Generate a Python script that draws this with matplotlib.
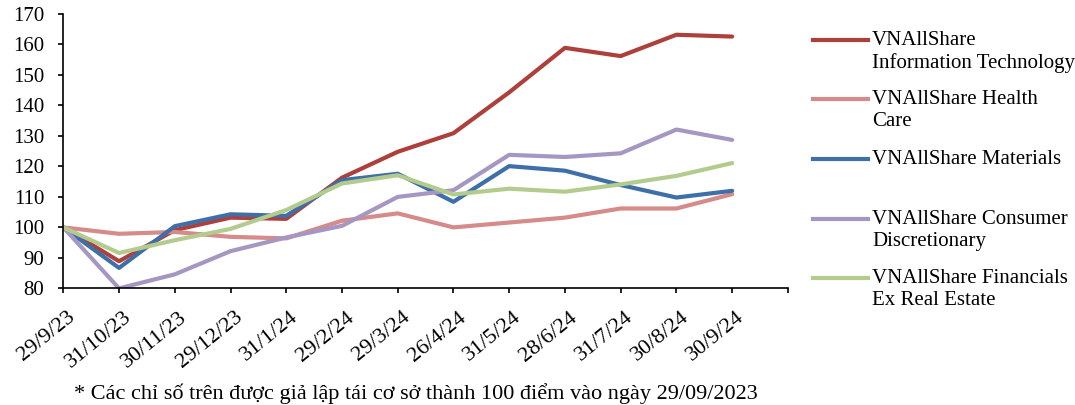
import matplotlib
matplotlib.use('Agg')
import matplotlib.pyplot as plt
from matplotlib.lines import Line2D
from matplotlib.transforms import ScaledTranslation

plt.rcParams['font.family'] = ['Liberation Serif', 'DejaVu Serif']

dates = ['29/9/23', '31/10/23', '30/11/23', '29/12/23', '31/1/24', '29/2/24', '29/3/24',
         '26/4/24', '31/5/24', '28/6/24', '31/7/24', '30/8/24', '30/9/24']

info_tech = [100, 88.9, 99.1, 103.2, 102.8, 116.3, 124.8, 130.9, 144.3, 158.9, 156.2, 163.2, 162.6]
health = [100, 97.9, 98.5, 96.9, 96.4, 102.2, 104.6, 100.0, 101.6, 103.2, 106.2, 106.2, 110.9]
materials = [100, 86.7, 100.4, 104.3, 103.8, 115.5, 117.6, 108.4, 120.1, 118.6, 113.9, 109.8, 112.0]
consumer = [100, 80.0, 84.6, 92.2, 96.7, 100.5, 110.0, 112.2, 123.8, 123.1, 124.3, 132.1, 128.7]
financials = [100, 91.6, 95.8, 99.5, 105.7, 114.4, 117.1, 110.8, 112.7, 111.7, 114.1, 116.9, 121.1]

names = ['VNAllShare\nInformation Technology', 'VNAllShare Health\nCare', 'VNAllShare Materials',
         'VNAllShare Consumer\nDiscretionary', 'VNAllShare Financials\nEx Real Estate']
colors = ['#AE403C', '#D48B8A', '#3F6FA8', '#A597C1', '#B3CC8E']
series = [info_tech, health, materials, consumer, financials]

fig = plt.figure(figsize=(10.75, 4.05), dpi=100)
ax = fig.add_axes([0.0589, 0.288, 0.674, 0.6774])

x = list(range(len(dates)))
for vals, c in zip(series, colors):
    ax.plot(x, vals, color=c, lw=3, solid_capstyle='round', solid_joinstyle='round')

ax.set_xlim(0, 13)
ax.set_ylim(80, 170)
ax.set_yticks(range(80, 171, 10))
ax.set_xticks(range(14))
ax.set_xticklabels(dates + [''], rotation=39, ha='right', va='top', rotation_mode='anchor')
ax.tick_params(axis='both', direction='out', length=3.6, width=1.2, labelsize=15, colors='black')
ax.tick_params(axis='x', pad=4, labelsize=16)
ax.tick_params(axis='y', pad=10)
shift = ScaledTranslation(4 / 100, -9 / 100, fig.dpi_scale_trans)
for lab in ax.get_xticklabels():
    lab.set_transform(lab.get_transform() + shift)
ax.spines['top'].set_visible(False)
ax.spines['right'].set_visible(False)
ax.spines['left'].set_linewidth(1.2)
ax.spines['bottom'].set_linewidth(1.2)

# legend drawn by hand so handle sits beside first line of text
leg_y = [40, 99, 159, 219, 278]
for name, c, yy in zip(names, colors, leg_y):
    yf = 1 - yy / 405
    fig.add_artist(Line2D([813 / 1075, 868 / 1075], [yf, yf], color=c, lw=3,
                          transform=fig.transFigure))
    fig.text(872 / 1075, yf + 9 / 405, name, fontsize=15, va='top', ha='left',
             linespacing=1.2)

fig.text(416 / 1075, 1 - 394 / 405,
         '* Các chỉ số trên được giả lập tái cơ sở thành 100 điểm vào ngày 29/09/2023',
         fontsize=16, ha='center', va='center')

fig.savefig('out.png', dpi=100)
